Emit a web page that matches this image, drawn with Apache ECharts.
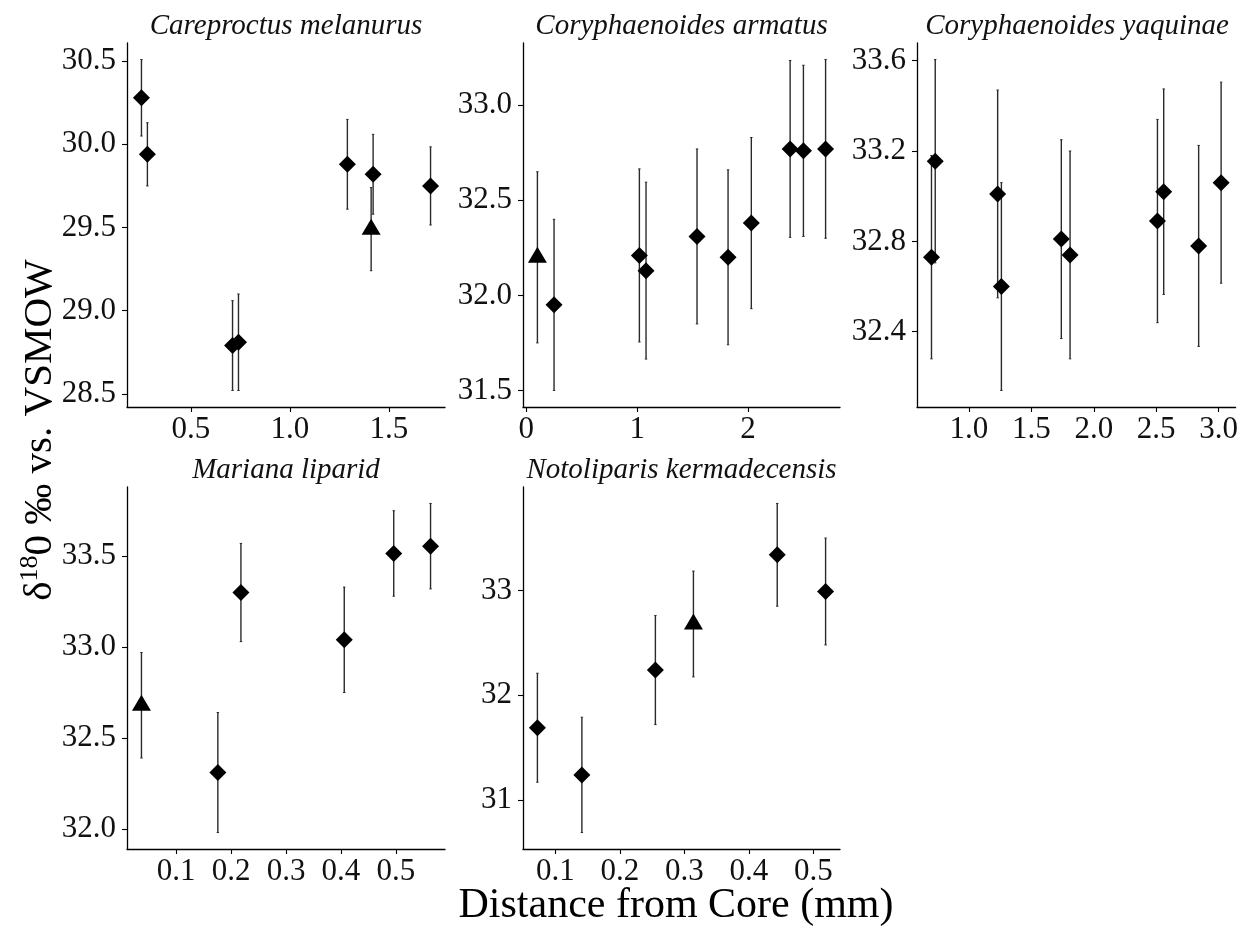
<!DOCTYPE html>
<html>
<head>
<meta charset="utf-8">
<title>Otolith δ18O by distance from core</title>
<script src="https://cdn.jsdelivr.net/npm/echarts@6/dist/echarts.min.js"></script>
<style>
  html, body { margin: 0; padding: 0; background: #fff; }
  #chart { width: 1241px; height: 926px; }
</style>
</head>
<body>
<div id="chart"></div>
<script>
// ---- data: distance from core (mm), δ18O (‰ vs. VSMOW), error (±), sample type ----
const speciesNames = ['Careproctus melanurus', 'Coryphaenoides armatus', 'Coryphaenoides yaquinae',
                      'Mariana liparid', 'Notoliparis kermadecensis'];

const cmDist = [0.25, 0.28, 0.71, 0.74, 1.29, 1.42, 1.41, 1.71];
const cmD18O = [30.28, 29.94, 28.79, 28.81, 29.88, 29.82, 29.49, 29.75];
const cmErr  = [0.23, 0.19, 0.27, 0.29, 0.27, 0.24, 0.25, 0.235];
const cmType = ['A', 'A', 'A', 'A', 'A', 'A', 'B', 'A'];

const caDist = [0.10, 0.25, 1.02, 1.08, 1.54, 1.82, 2.03, 2.38, 2.50, 2.70];
const caD18O = [32.20, 31.95, 32.21, 32.13, 32.31, 32.20, 32.38, 32.77, 32.76, 32.77];
const caErr  = [0.45, 0.45, 0.455, 0.465, 0.46, 0.46, 0.45, 0.465, 0.45, 0.47];
const caType = ['B', 'A', 'A', 'A', 'A', 'A', 'A', 'A', 'A', 'A'];

const cyDist = [0.70, 0.73, 1.23, 1.26, 1.74, 1.81, 2.51, 2.56, 2.84, 3.02];
const cyD18O = [32.73, 33.155, 33.01, 32.60, 32.81, 32.74, 32.89, 33.02, 32.78, 33.06];
const cyErr  = [0.45, 0.45, 0.46, 0.46, 0.44, 0.46, 0.45, 0.455, 0.445, 0.445];
const cyType = ['A', 'A', 'A', 'A', 'A', 'A', 'A', 'A', 'A', 'A'];

const mlDist = [0.037, 0.176, 0.218, 0.406, 0.496, 0.563];
const mlD18O = [32.68, 32.31, 33.30, 33.04, 33.515, 33.555];
const mlErr  = [0.29, 0.33, 0.27, 0.29, 0.235, 0.235];
const mlType = ['B', 'A', 'A', 'A', 'A', 'A'];

const nkDist = [0.072, 0.141, 0.255, 0.314, 0.444, 0.519];
const nkD18O = [31.69, 31.24, 32.24, 32.68, 33.34, 32.99];
const nkErr  = [0.52, 0.55, 0.52, 0.505, 0.49, 0.51];
const nkType = ['A', 'A', 'A', 'B', 'A', 'A'];

// ---- tick values per panel ----
const cmXTicks = [0.5, 1.0, 1.5];
const cmYTicks = [28.5, 29.0, 29.5, 30.0, 30.5];
const caXTicks = [0, 1, 2];
const caYTicks = [31.5, 32.0, 32.5, 33.0];
const cyXTicks = [1.0, 1.5, 2.0, 2.5, 3.0];
const cyYTicks = [32.4, 32.8, 33.2, 33.6];
const mlXTicks = [0.1, 0.2, 0.3, 0.4, 0.5];
const mlYTicks = [32.0, 32.5, 33.0, 33.5];
const nkXTicks = [0.1, 0.2, 0.3, 0.4, 0.5];
const nkYTicks = [31, 32, 33];

const xDecimals = [1, 0, 1, 1, 1];
const yDecimals = [1, 1, 1, 1, 0];

// ---- assemble panels ----
const panelData = [
  { dist: cmDist, d18o: cmD18O, err: cmErr, type: cmType, xt: cmXTicks, yt: cmYTicks },
  { dist: caDist, d18o: caD18O, err: caErr, type: caType, xt: caXTicks, yt: caYTicks },
  { dist: cyDist, d18o: cyD18O, err: cyErr, type: cyType, xt: cyXTicks, yt: cyYTicks },
  { dist: mlDist, d18o: mlD18O, err: mlErr, type: mlType, xt: mlXTicks, yt: mlYTicks },
  { dist: nkDist, d18o: nkD18O, err: nkErr, type: nkType, xt: nkXTicks, yt: nkYTicks }
];

// panel boxes in pixels: [left, top, width, height]
const boxes = [
  [127, 43, 318, 364],
  [523, 43, 317, 364],
  [917, 43, 320, 364],
  [127, 487, 318, 362],
  [523, 487, 317, 362]
];

const FONT = '"Liberation Serif", "Times New Roman", "DejaVu Serif", serif';
const INK = '#000';

// expand a range by 5% on each side
function expand(lo, hi) {
  const pad = (hi - lo) * 0.05;
  return [lo - pad, hi + pad];
}

const grids = [], xAxes = [], yAxes = [], series = [], graphics = [];

panelData.forEach((p, i) => {
  const [l, t, w, h] = boxes[i];
  grids.push({ left: l, top: t, width: w, height: h, containLabel: false });

  const lows = p.d18o.map((v, k) => v - p.err[k]);
  const highs = p.d18o.map((v, k) => v + p.err[k]);
  const xr = expand(Math.min(...p.dist), Math.max(...p.dist));
  const yr = expand(Math.min(...lows), Math.max(...highs));

  const axisCommon = {
    axisLine: { show: true, onZero: false, lineStyle: { color: INK, width: 1.3 } },
    splitLine: { show: false }
  };
  const tickStyle = { show: true, length: 5, lineStyle: { color: INK, width: 1.1 } };

  xAxes.push(Object.assign({}, axisCommon, {
    type: 'value', gridIndex: i, min: xr[0], max: xr[1],
    axisTick: Object.assign({}, tickStyle, { customValues: p.xt }),
    axisLabel: {
      customValues: p.xt, margin: 7, color: '#111', fontFamily: FONT, fontSize: 31,
      formatter: v => Number(v).toFixed(xDecimals[i])
    }
  }));
  yAxes.push(Object.assign({}, axisCommon, {
    type: 'value', gridIndex: i, min: yr[0], max: yr[1],
    axisTick: Object.assign({}, tickStyle, { customValues: p.yt }),
    axisLabel: {
      customValues: p.yt, margin: 11, color: '#111', fontFamily: FONT, fontSize: 31,
      formatter: v => Number(v).toFixed(yDecimals[i])
    }
  }));

  // vertical error bars
  series.push({
    type: 'custom', xAxisIndex: i, yAxisIndex: i, z: 2, silent: true,
    data: p.dist.map((x, k) => [x, lows[k], highs[k]]),
    encode: { x: 0, y: [1, 2] },
    renderItem: (params, api) => {
      const a = api.coord([api.value(0), api.value(1)]);
      const b = api.coord([api.value(0), api.value(2)]);
      return {
        type: 'group',
        children: [
          { type: 'line', shape: { x1: a[0], y1: a[1], x2: b[0], y2: b[1] },
            style: { stroke: '#2a2a2a', lineWidth: 1.4 } },
          { type: 'line', shape: { x1: a[0] - 1.2, y1: a[1], x2: a[0] + 1.2, y2: a[1] },
            style: { stroke: '#2a2a2a', lineWidth: 1 } },
          { type: 'line', shape: { x1: b[0] - 1.2, y1: b[1], x2: b[0] + 1.2, y2: b[1] },
            style: { stroke: '#2a2a2a', lineWidth: 1 } }
        ]
      };
    }
  });

  // sample points: type A diamonds, type B triangles
  series.push({
    type: 'scatter', xAxisIndex: i, yAxisIndex: i, z: 3, silent: true,
    data: p.dist.map((x, k) => {
      const tri = p.type[k] === 'B';
      return {
        value: [x, p.d18o[k]],
        symbol: tri ? 'triangle' : 'diamond',
        symbolSize: tri ? [19, 16] : [17, 17],
        symbolOffset: tri ? [0, -2.5] : [0, 0]
      };
    }),
    itemStyle: { color: '#000', opacity: 1 }
  });

  // panel strip title
  graphics.push({
    type: 'text', x: l + w / 2, y: t - 17,
    style: { text: speciesNames[i], font: 'italic 29px ' + FONT, fill: '#111',
             textAlign: 'center', textVerticalAlign: 'middle' }
  });
});

// shared axis titles
graphics.push({
  type: 'text', x: 676, y: 906,
  style: { text: 'Distance from Core (mm)', font: '42px ' + FONT, fill: '#000',
           textAlign: 'center', textVerticalAlign: 'middle' }
});
graphics.push({
  type: 'text', x: 39, y: 430, rotation: Math.PI / 2,
  style: {
    text: '{d|δ}{s|18}{d|0 ‰ vs. VSMOW}',
    textAlign: 'center', textVerticalAlign: 'middle', fill: '#000',
    rich: {
      d: { fontFamily: FONT, fontSize: 41, lineHeight: 44, fill: '#000', verticalAlign: 'bottom' },
      s: { fontFamily: FONT, fontSize: 26, lineHeight: 44, fill: '#000', verticalAlign: 'top' }
    }
  }
});

const chart = echarts.init(document.getElementById('chart'), null, { renderer: 'canvas' });
chart.setOption({
  animation: false,
  backgroundColor: '#fff',
  grid: grids,
  xAxis: xAxes,
  yAxis: yAxes,
  series: series,
  graphic: graphics
});
</script>
</body>
</html>
